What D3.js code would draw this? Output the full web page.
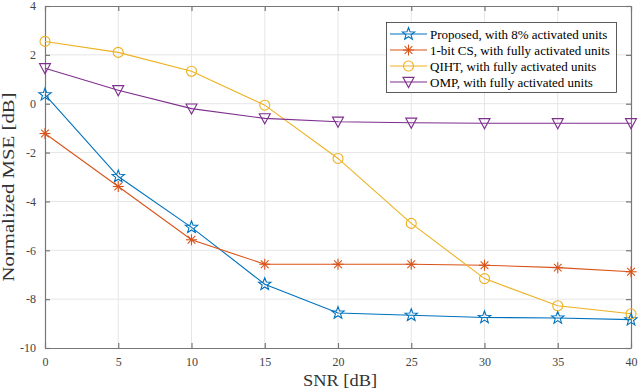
<!DOCTYPE html>
<html><head><meta charset="utf-8">
<script src="https://cdn.jsdelivr.net/npm/d3@7"></script>
<style>body{margin:0;background:#fff}svg{display:block}</style>
</head><body>
<svg id="c" width="638" height="392"></svg>
<script>
const snr = [0, 5, 10, 15, 20, 25, 30, 35, 40];
const proposed = [0.37, -2.98, -5.06, -7.39, -8.57, -8.66, -8.75, -8.77, -8.84];
const oneBitCS = [-1.22, -3.39, -5.57, -6.57, -6.57, -6.57, -6.61, -6.71, -6.88];
const qiht = [2.55, 2.1, 1.33, -0.06, -2.24, -4.9, -7.16, -8.27, -8.6];
const omp = [1.45, 0.55, -0.2, -0.6, -0.74, -0.78, -0.8, -0.8, -0.8];
const seriesNames = ["Proposed, with 8% activated units", "1-bit CS, with fully activated units", "QIHT, with fully activated units", "OMP, with fully activated units"];
const xTicks = [0, 5, 10, 15, 20, 25, 30, 35, 40];
const yTicks = [-10, -8, -6, -4, -2, 0, 2, 4];
const colors = ["#0072BD", "#D95319", "#EDB120", "#7E2F8E"];
const markers = ["star", "asterisk", "circle", "triangle"];
const allSeries = [proposed, oneBitCS, qiht, omp];

const L = 45, R = 631, T = 6, B = 348;
const svg = d3.select("#c");
const x = d3.scaleLinear().domain([0, 40]).range([L, R]);
const y = d3.scaleLinear().domain([-10, 4]).range([B, T]);
const font = "'Liberation Serif','Times New Roman',serif";
const axCol = "#333";

// grid
svg.append("g").selectAll("line").data(xTicks.slice(1, -1)).join("line")
  .attr("x1", d => x(d)).attr("x2", d => x(d)).attr("y1", T).attr("y2", B)
  .attr("stroke", "#e6e6e6").attr("stroke-width", 1);
svg.append("g").selectAll("line").data(yTicks.slice(1, -1)).join("line")
  .attr("y1", d => y(d)).attr("y2", d => y(d)).attr("x1", L).attr("x2", R)
  .attr("stroke", "#e6e6e6").attr("stroke-width", 1);

// axes
const tick = 5;
const xb = svg.append("g").attr("transform", `translate(0,${B})`)
  .call(d3.axisBottom(x).tickValues(xTicks).tickSizeInner(-tick).tickSizeOuter(0).tickPadding(9));
const xt = svg.append("g").attr("transform", `translate(0,${T})`)
  .call(d3.axisTop(x).tickValues(xTicks).tickSizeInner(-tick).tickSizeOuter(0).tickFormat(""));
const yl = svg.append("g").attr("transform", `translate(${L},0)`)
  .call(d3.axisLeft(y).tickValues(yTicks).tickSizeInner(-tick).tickSizeOuter(0).tickPadding(9));
const yr = svg.append("g").attr("transform", `translate(${R},0)`)
  .call(d3.axisRight(y).tickValues(yTicks).tickSizeInner(-tick).tickSizeOuter(0).tickFormat(""));
[xb, xt, yl, yr].forEach(g => {
  g.select(".domain").attr("stroke", "#777").attr("stroke-width", 1.2);
  g.selectAll(".tick line").attr("stroke", "#777").attr("stroke-width", 1.2);
  g.selectAll("text").attr("font-family", font).attr("font-size", 12).attr("fill", "#444");
});
yl.selectAll("text").text(d => d < 0 ? "-" + Math.abs(d) : d);

// labels
svg.append("text").attr("x", 340).attr("y", 386).attr("text-anchor", "middle")
  .attr("font-family", font).attr("font-size", 17).attr("fill", axCol)
  .attr("textLength", 74).attr("lengthAdjust", "spacingAndGlyphs").text("SNR [dB]");
svg.append("text").attr("transform", `translate(13.5,187) rotate(-90)`).attr("text-anchor", "middle")
  .attr("font-family", font).attr("font-size", 17).attr("fill", axCol)
  .attr("textLength", 189).attr("lengthAdjust", "spacingAndGlyphs").text("Normalized MSE [dB]");

function drawMarker(g, type, cx, cy, col) {
  if (type === "star") {
    const pts = [];
    for (let i = 0; i < 10; i++) {
      const r = i % 2 === 0 ? 6.5 : 2.7;
      const a = -Math.PI / 2 + i * Math.PI / 5;
      pts.push([cx + r * Math.cos(a), cy + r * Math.sin(a)]);
    }
    g.append("polygon").attr("points", pts.map(p => p.join(",")).join(" "))
      .attr("fill", "none").attr("stroke", col).attr("stroke-width", 1.1);
  } else if (type === "asterisk") {
    const r = 5.5;
    const p = [[0, -r, 0, r], [-r, 0, r, 0], [-r * .7, -r * .7, r * .7, r * .7], [-r * .7, r * .7, r * .7, -r * .7]];
    p.forEach(s => g.append("line").attr("x1", cx + s[0]).attr("y1", cy + s[1]).attr("x2", cx + s[2]).attr("y2", cy + s[3])
      .attr("stroke", col).attr("stroke-width", 1.1));
  } else if (type === "circle") {
    g.append("circle").attr("cx", cx).attr("cy", cy).attr("r", 5).attr("fill", "none").attr("stroke", col).attr("stroke-width", 1.1);
  } else {
    const h = 5.5;
    g.append("polygon").attr("points", `${cx - h},${cy - h * 0.85} ${cx + h},${cy - h * 0.85} ${cx},${cy + h * 1.0}`)
      .attr("fill", "none").attr("stroke", col).attr("stroke-width", 1.1);
  }
}

const line = d3.line().x((d, i) => x(snr[i])).y(d => y(d));
allSeries.forEach((s, k) => {
  const g = svg.append("g");
  g.append("path").attr("d", line(s)).attr("fill", "none").attr("stroke", colors[k]).attr("stroke-width", 1.1);
  s.forEach((v, i) => drawMarker(g, markers[k], x(snr[i]), y(v), colors[k]));
});

// legend
const lg = svg.append("g");
lg.append("rect").attr("x", 386.5).attr("y", 22.5).attr("width", 230).attr("height", 70)
  .attr("fill", "#fff").attr("stroke", axCol).attr("stroke-width", 0.8);
seriesNames.forEach((n, k) => {
  const yy = 34 + k * 16;
  lg.append("line").attr("x1", 390).attr("x2", 427).attr("y1", yy).attr("y2", yy).attr("stroke", colors[k]).attr("stroke-width", 1.1);
  drawMarker(lg, markers[k], 408.5, yy, colors[k]);
  lg.append("text").attr("x", 430).attr("y", yy + 4.5).attr("font-family", font).attr("font-size", 13)
    .attr("fill", "#000").text(n);
});
</script>
</body></html>
